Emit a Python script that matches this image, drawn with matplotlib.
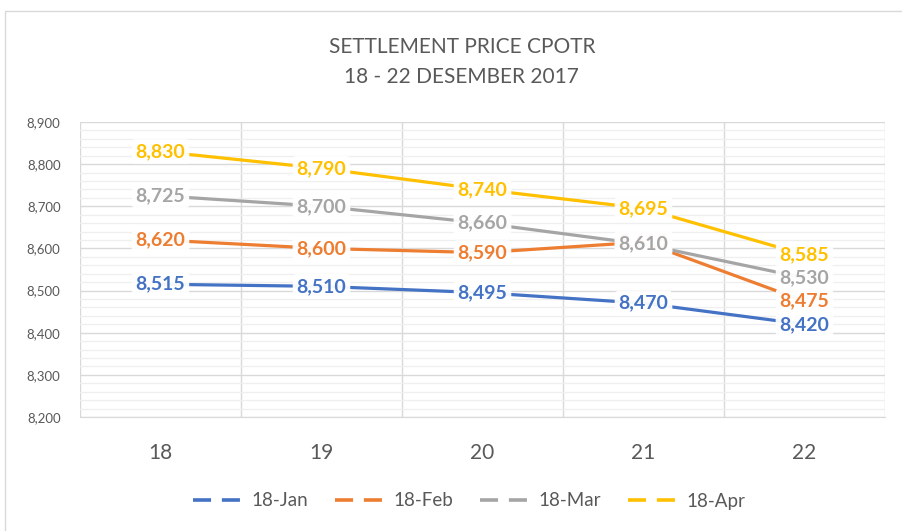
import matplotlib
matplotlib.use("Agg")
import matplotlib.pyplot as plt
from matplotlib.lines import Line2D
from matplotlib.patches import Rectangle
from matplotlib.ticker import MultipleLocator, FuncFormatter

days = ["18", "19", "20", "21", "22"]
series_names = ["18-Jan", "18-Feb", "18-Mar", "18-Apr"]
jan = [8515, 8510, 8495, 8470, 8420]
feb = [8620, 8600, 8590, 8615, 8475]
mar = [8725, 8700, 8660, 8610, 8530]
apr = [8830, 8790, 8740, 8695, 8585]
colors = ["#4472C4", "#ED7D31", "#A5A5A5", "#FFC000"]

plt.rcParams['font.family'] = ['Lato', 'DejaVu Sans']

fig = plt.figure(figsize=(9.02, 5.31), dpi=100)
ax = fig.add_axes([80/902, 1-417/531, (885-80)/902, (417-122)/531])

# outer chart border
fig.patches.append(Rectangle((5/902, -0.01), 1.0, 1-11/531+0.01, transform=fig.transFigure,
                             fill=False, ec="#D9D9D9", lw=1.0, zorder=0))

x = list(range(len(days)))
for vals, col, name in zip([jan, feb, mar, apr], colors, series_names):
    ax.plot(x, vals, color=col, lw=2.3, solid_capstyle='round', zorder=3, label=name)
for vals, col in zip([jan, feb, mar, apr], colors):
    for xi, v in zip(x, vals):
        ax.text(xi, v, f"{v:,}", color=col, fontsize=14, fontweight='bold',
                ha='center', va='center', zorder=5,
                bbox=dict(boxstyle='round,pad=0.2', fc='white', ec='none', alpha=0.95))

ax.set_xlim(-0.5, 4.5)
ax.set_ylim(8200, 8900)
ax.yaxis.set_major_locator(MultipleLocator(100))
ax.yaxis.set_minor_locator(MultipleLocator(20))
ax.yaxis.set_major_formatter(FuncFormatter(lambda v, p: f"{int(v):,}"))
ax.set_xticks(x)
ax.set_xticklabels(days)
ax.set_xticks([i - 0.5 for i in range(len(days) + 1)], minor=True)

ax.grid(True, which='major', axis='y', color='#D9D9D9', lw=1.0, zorder=0)
ax.grid(True, which='minor', axis='y', color='#EFEFEF', lw=0.9, zorder=0)
ax.grid(True, which='minor', axis='x', color='#D9D9D9', lw=1.0, zorder=0)
ax.grid(False, which='major', axis='x')
ax.set_axisbelow(True)

for s in ['top', 'right', 'left']:
    ax.spines[s].set_visible(False)
ax.spines['bottom'].set_color('#D9D9D9')

ax.tick_params(axis='y', which='both', length=0, labelsize=9.5, labelcolor='#595959', pad=14)
ax.tick_params(axis='x', which='both', length=0, labelsize=15, labelcolor='#595959', pad=19)

fig.text(0.512, 1-47/531, "SETTLEMENT PRICE CPOTR", ha='center', va='center',
         fontsize=15, color='#595959')
fig.text(0.512, 1-77/531, "18 - 22 DESEMBER 2017", ha='center', va='center',
         fontsize=15, color='#595959')

handles = [Line2D([0], [0], color=c, lw=2.6, linestyle=(0, (5, 3))) for c in colors]
fig.legend(handles, series_names, loc='center', bbox_to_anchor=(0.52, 1-501/531), ncol=4,
           frameon=False, fontsize=13.5, handlelength=3.0, handletextpad=0.15,
           columnspacing=1.4, labelcolor='#595959')

fig.savefig("out.png", dpi=100)
